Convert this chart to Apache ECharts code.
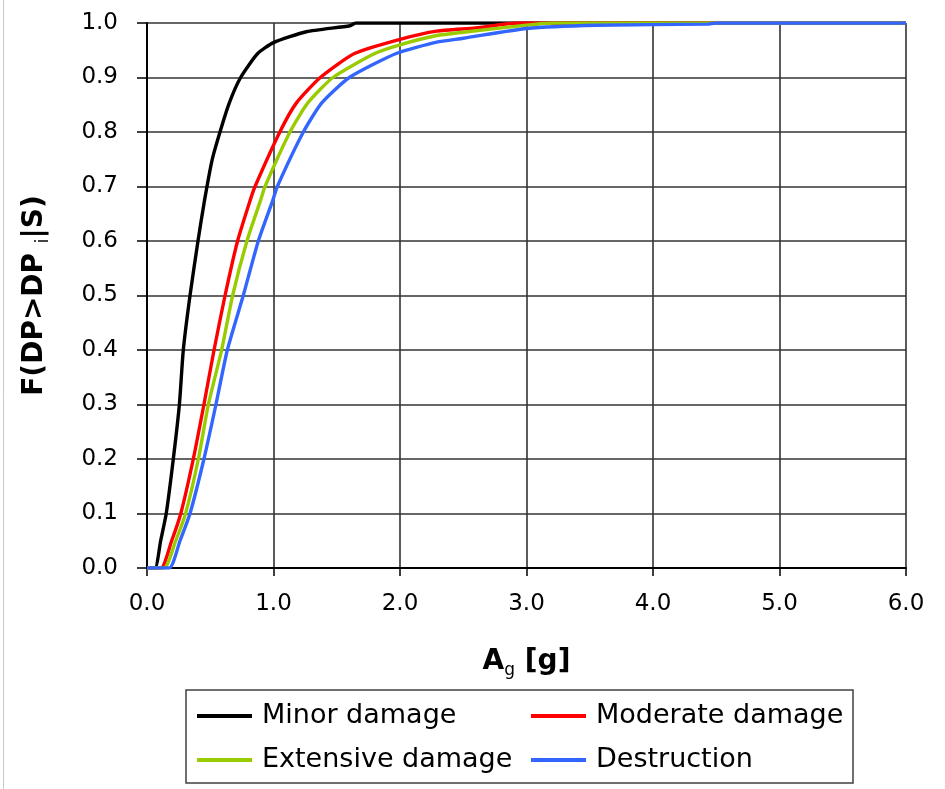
<!DOCTYPE html>
<html>
<head>
<meta charset="utf-8">
<script src="https://cdn.jsdelivr.net/npm/echarts@6/dist/echarts.min.js"></script>
<style>
  html, body { margin: 0; padding: 0; background: #fff; }
  #chart { width: 945px; height: 789px; }
</style>
</head>
<body>
<div id="chart"></div>
<script>
// Fragility curves: probability of exceeding each damage state vs. peak ground acceleration
const seriesNames = ['Minor damage', 'Moderate damage', 'Extensive damage', 'Destruction'];
const seriesColors = ['#000000', '#FF0000', '#99CC00', '#3366FF'];

// [Ag (g), probability]
const minorDamage = [
  [0, 0], [0.063, 0], [0.108, 0.05], [0.152, 0.1], [0.208, 0.2], [0.256, 0.3],
  [0.287, 0.4], [0.34, 0.5], [0.403, 0.6], [0.455, 0.675], [0.515, 0.749],
  [0.577, 0.8], [0.65, 0.853], [0.74, 0.9], [0.875, 0.944], [1.0, 0.964],
  [1.26, 0.984], [1.605, 0.995], [1.65, 1.0], [6.0, 1.0]
];
const moderateDamage = [
  [0, 0], [0.11, 0], [0.195, 0.05], [0.267, 0.1], [0.366, 0.2], [0.45, 0.3],
  [0.53, 0.4], [0.617, 0.5], [0.716, 0.6], [0.816, 0.675], [0.854, 0.7],
  [1.05, 0.8], [1.18, 0.853], [1.37, 0.9], [1.64, 0.944], [2.0, 0.97],
  [2.29, 0.985], [2.6, 0.991], [2.93, 1.0], [6.0, 1.0]
];
const extensiveDamage = [
  [0, 0], [0.135, 0], [0.227, 0.05], [0.305, 0.1], [0.406, 0.2], [0.485, 0.3],
  [0.59, 0.4], [0.677, 0.5], [0.79, 0.6], [0.898, 0.675], [0.933, 0.7],
  [1.13, 0.8], [1.27, 0.853], [1.47, 0.9], [1.8, 0.944], [2.0, 0.96],
  [2.29, 0.977], [2.5, 0.983], [3.0, 0.996], [3.21, 1.0], [6.0, 1.0]
];
const destruction = [
  [0, 0], [0.175, 0], [0.261, 0.05], [0.34, 0.1], [0.45, 0.2], [0.545, 0.3],
  [0.635, 0.4], [0.761, 0.5], [0.88, 0.6], [0.995, 0.675], [1.03, 0.7],
  [1.236, 0.8], [1.38, 0.853], [1.6, 0.9], [1.97, 0.944], [2.29, 0.965],
  [2.5, 0.972], [3.0, 0.99], [3.55, 0.996], [4.43, 0.998], [4.5, 1.0], [6.0, 1.0]
];
const seriesData = [minorDamage, moderateDamage, extensiveDamage, destruction];

const xTicks = { min: 0, max: 6, interval: 1 };
const yTicks = { min: 0, max: 1, interval: 0.1 };

const FONT = 'DejaVu Sans';
const chart = echarts.init(document.getElementById('chart'));

// one legend block per entry so the two columns line up
const legendSlots = [
  { left: 197, top: 700 }, { left: 531, top: 700 },
  { left: 197, top: 744 }, { left: 531, top: 744 }
];

const yTitleRich = {
  b: { fontFamily: FONT, fontSize: 28, fontWeight: 'bold', color: '#000', lineHeight: 34 },
  s: { fontFamily: FONT, fontSize: 17, color: '#000', lineHeight: 34, verticalAlign: 'bottom' }
};
const xTitleRich = {
  b: { fontFamily: FONT, fontSize: 28, fontWeight: 'bold', color: '#000', lineHeight: 34 },
  s: { fontFamily: FONT, fontSize: 17, color: '#000', lineHeight: 34, verticalAlign: 'bottom' }
};

chart.setOption({
  backgroundColor: '#ffffff',
  animation: false,
  grid: { left: 147, right: 39, top: 23, bottom: 221, containLabel: false },
  xAxis: {
    type: 'value', min: xTicks.min, max: xTicks.max, interval: xTicks.interval,
    name: '{b|A}{s|g}{b| [g]}',
    nameLocation: 'middle', nameGap: 77,
    nameTextStyle: { rich: xTitleRich },
    axisLine: { show: true, onZero: false, lineStyle: { color: '#000', width: 2 } },
    axisTick: { show: true, length: 8, lineStyle: { color: '#000', width: 1.5 } },
    axisLabel: {
      margin: 25, fontFamily: FONT, fontSize: 23, color: '#000',
      formatter: v => v.toFixed(1)
    },
    splitLine: { show: true, lineStyle: { color: '#333', width: 1.6 } }
  },
  yAxis: {
    type: 'value', min: yTicks.min, max: yTicks.max, interval: yTicks.interval,
    name: '{b|F(DP>DP }{s|i}{b||S)}',
    nameLocation: 'middle', nameGap: 95, nameRotate: 90,
    nameTextStyle: { rich: yTitleRich },
    axisLine: { show: true, onZero: false, lineStyle: { color: '#000', width: 2 } },
    axisTick: { show: true, length: 10, lineStyle: { color: '#000', width: 1.5 } },
    axisLabel: {
      margin: 29, fontFamily: FONT, fontSize: 23, color: '#000',
      formatter: v => v.toFixed(1)
    },
    splitLine: { show: true, lineStyle: { color: '#333', width: 1.6 } }
  },
  legend: seriesNames.map((name, i) => ({
    data: [name],
    left: legendSlots[i].left, top: legendSlots[i].top,
    icon: 'rect', itemWidth: 55, itemHeight: 4, padding: 0,
    selectedMode: false,
    textStyle: { fontFamily: FONT, fontSize: 27, color: '#000', lineHeight: 32, padding: [0, 0, 0, 5] }
  })),
  graphic: [
    {
      type: 'rect', silent: true, z: 0,
      shape: { x: 186, y: 690, width: 667, height: 93 },
      style: { fill: 'none', stroke: '#404040', lineWidth: 1.5 }
    },
    {
      type: 'line', silent: true,
      shape: { x1: 3.5, y1: 0, x2: 3.5, y2: 789 },
      style: { stroke: '#c8c8c8', lineWidth: 1 }
    }
  ],
  series: seriesNames.map((name, i) => ({
    name, type: 'line', data: seriesData[i],
    showSymbol: false, symbol: 'none',
    smooth: 0.2,
    color: seriesColors[i],
    lineStyle: { color: seriesColors[i], width: 3.4 },
    z: 3 + i
  }))
});
</script>
</body>
</html>
